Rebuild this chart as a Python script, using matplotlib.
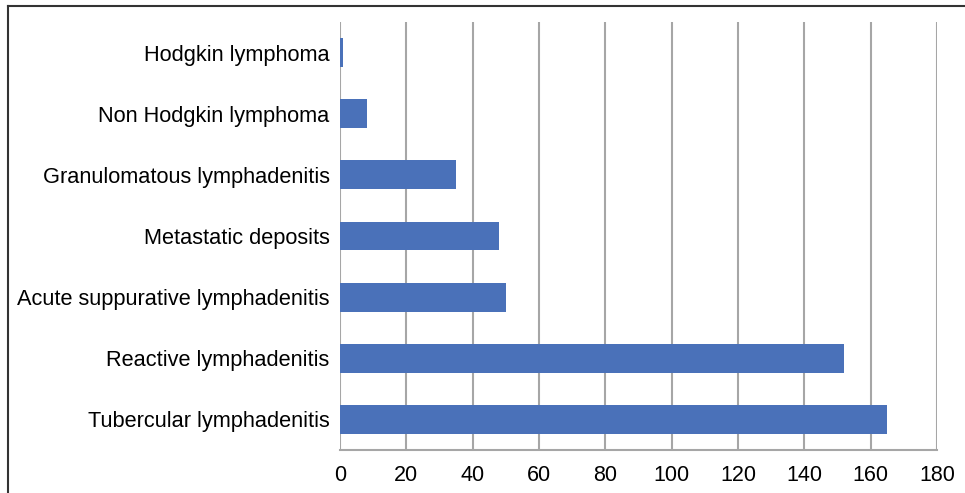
import matplotlib.pyplot as plt
from matplotlib.lines import Line2D

# lymph node biopsy diagnoses (number of cases)
categories = ['Tubercular lymphadenitis', 'Reactive lymphadenitis',
              'Acute suppurative lymphadenitis', 'Metastatic deposits',
              'Granulomatous lymphadenitis', 'Non Hodgkin lymphoma',
              'Hodgkin lymphoma']
cases = [165, 152, 50, 48, 35, 8, 1]
xticks = [0, 20, 40, 60, 80, 100, 120, 140, 160, 180]

plt.rcParams['font.family'] = ['Liberation Sans', 'DejaVu Sans']

fig = plt.figure(figsize=(9.65, 4.93), dpi=100)
ax = fig.add_axes([340/965, 1-450/493, (937-340)/965, (450-22)/493])

ax.barh(range(len(categories)), cases, height=0.47, color='#4A71B9', zorder=3)
ax.set_yticks(range(len(categories)))
ax.set_yticklabels(categories, fontsize=15.7)
ax.set_ylim(-0.5, len(categories)-0.5)
ax.set_xlim(0, 180)
ax.set_xticks(xticks)
ax.tick_params(axis='x', labelsize=15.5, length=0, pad=11)
ax.tick_params(axis='y', length=0, pad=7.5)
ax.grid(axis='x', color='#a6a6a6', linewidth=1.5, zorder=0)

for s in ['top', 'right', 'left']:
    ax.spines[s].set_visible(False)
ax.spines['bottom'].set_color('#a6a6a6')
ax.spines['bottom'].set_linewidth(1.5)

# frame around the chart (top and left edges only)
fig.add_artist(Line2D([8/965, 1], [1-6/493, 1-6/493], color='#333333', lw=1.5,
                      transform=fig.transFigure))
fig.add_artist(Line2D([8/965, 8/965], [0, 1-6/493], color='#333333', lw=1.5,
                      transform=fig.transFigure))

fig.savefig('out.png', dpi=100)
